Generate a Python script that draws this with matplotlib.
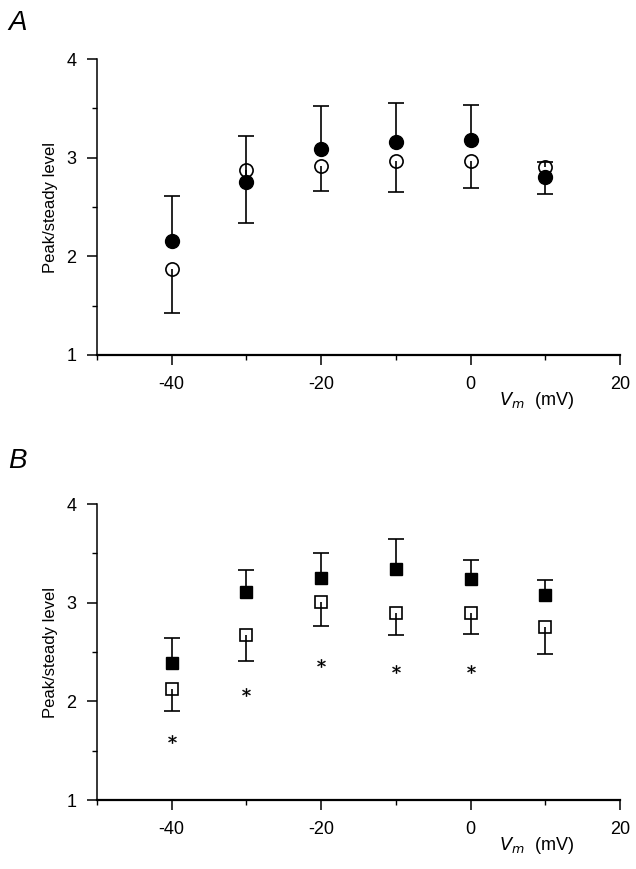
#!/usr/bin/env python
"""Peak/steady level vs membrane potential, panels A and B."""

import matplotlib

matplotlib.use("Agg")

import matplotlib.pyplot as plt
import numpy as np
from matplotlib.ticker import MultipleLocator

plt.rcParams["font.family"] = ["Liberation Sans", "DejaVu Sans"]
plt.rcParams["axes.unicode_minus"] = False

voltage = [-40, -30, -20, -10, 0, 10]

# panel A: filled circles (error up), open circles (error down, except +10)
a_filled = [2.16, 2.75, 3.09, 3.16, 3.18, 2.80]
a_filled_up = [0.45, 0.47, 0.43, 0.39, 0.35, 0.0]
a_filled_down = [0.0, 0.0, 0.0, 0.0, 0.0, 0.17]
a_open = [1.87, 2.88, 2.92, 2.97, 2.97, 2.91]
a_open_up = [0.0, 0.0, 0.0, 0.0, 0.0, 0.05]
a_open_down = [0.44, 0.54, 0.26, 0.32, 0.28, 0.0]

# panel B: filled squares (error up), open squares (error down), asterisks
b_filled = [2.39, 3.11, 3.25, 3.34, 3.24, 3.08]
b_filled_up = [0.25, 0.22, 0.25, 0.31, 0.19, 0.15]
b_open = [2.13, 2.67, 3.01, 2.90, 2.90, 2.75]
b_open_down = [0.23, 0.26, 0.25, 0.23, 0.22, 0.27]
star_v = [-40, -30, -20, -10, 0]
star_y = [1.62, 2.09, 2.39, 2.33, 2.33]


def style_axes(ax):
    ax.set_xlim(-50, 20)
    ax.set_ylim(1, 4)
    ax.spines["top"].set_visible(False)
    ax.spines["right"].set_visible(False)
    ax.spines["left"].set_linewidth(1.1)
    ax.spines["bottom"].set_linewidth(1.6)
    ax.xaxis.set_major_locator(MultipleLocator(20))
    ax.xaxis.set_minor_locator(MultipleLocator(10))
    ax.yaxis.set_major_locator(MultipleLocator(1))
    ax.yaxis.set_minor_locator(MultipleLocator(0.5))
    ax.tick_params(which="major", direction="out", length=7, width=1.1,
                   labelsize=13, pad=8)
    ax.tick_params(which="minor", direction="out", length=3.5, width=1.0)
    ax.tick_params(axis="y", which="major", pad=8)
    ax.set_ylabel("Peak/steady level", fontsize=12, labelpad=6)
    ax.set_xlabel(r"$V_m$  (mV)", fontsize=13)
    ax.xaxis.set_label_coords(0.841, -0.118)


def draw_errors(ax, y, down, up):
    """One-sided error bars: draw only the parts that are non-zero."""
    x = np.asarray(voltage, dtype=float)
    y = np.asarray(y, dtype=float)
    for err, sign in ((np.asarray(up), 1), (np.asarray(down), -1)):
        keep = err > 0
        ends = y[keep] + sign * err[keep]
        ax.vlines(x[keep], y[keep], ends, color="black", lw=1.2, zorder=2)
        ax.plot(x[keep], ends, "_", ms=11, mew=1.2, color="black", zorder=2)


fig = plt.figure(figsize=(6.36, 8.69), dpi=100)
ax_a = fig.add_axes([0.1525, 0.5915, 0.8225, 0.3405])
ax_b = fig.add_axes([0.1525, 0.0794, 0.8225, 0.3406])

# panel A
draw_errors(ax_a, a_open, a_open_down, a_open_up)
draw_errors(ax_a, a_filled, a_filled_down, a_filled_up)
ax_a.plot(voltage, a_open, "o", ms=9.5, mfc="none", mec="black", mew=1.2,
          zorder=3)
ax_a.plot(voltage, a_filled, "o", ms=10, mfc="black", mec="black", zorder=4)
style_axes(ax_a)

# panel B
zeros = [0.0] * len(voltage)
draw_errors(ax_b, b_open, b_open_down, zeros)
draw_errors(ax_b, b_filled, zeros, b_filled_up)
ax_b.plot(voltage, b_open, "s", ms=8, mfc="none", mec="black", mew=1.2,
          zorder=3)
ax_b.plot(voltage, b_filled, "s", ms=8.5, mfc="black", mec="black", zorder=4)
ax_b.plot(star_v, star_y, linestyle="none", marker="$*$", ms=6,
          color="black", mew=0.3, zorder=4)
style_axes(ax_b)

fig.text(0.013, 0.965, "A", fontsize=20, style="italic")
fig.text(0.013, 0.462, "B", fontsize=20, style="italic")

fig.savefig("out.png", dpi=100)
